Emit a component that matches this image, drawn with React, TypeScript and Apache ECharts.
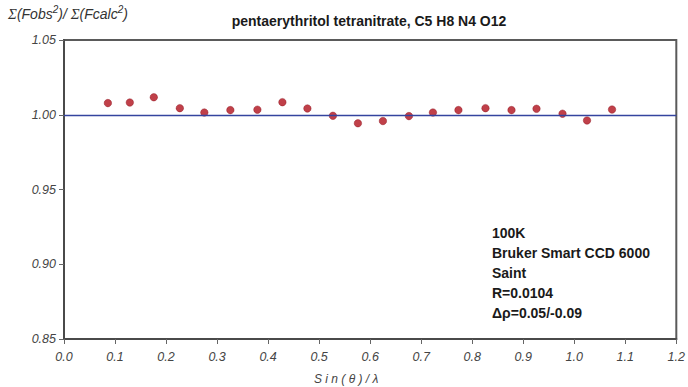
import React, { useEffect, useRef } from "react";
import * as echarts from "echarts";

const sinThetaOverLambda = [0.086, 0.129, 0.176, 0.227, 0.275, 0.326, 0.379, 0.428, 0.477, 0.527, 0.576, 0.625, 0.676, 0.723, 0.773, 0.826, 0.877, 0.926, 0.977, 1.025, 1.074];
const ratio = [1.0078, 1.0082, 1.0117, 1.0044, 1.0015, 1.0031, 1.0034, 1.0084, 1.0042, 0.9993, 0.9943, 0.9958, 0.9991, 1.0015, 1.0031, 1.0044, 1.0031, 1.004, 1.0007, 0.9962, 1.0035];
const referenceLevel = 1.0;
const titleText = "pentaerythritol tetranitrate, C5 H8 N4 O12";
const infoLines = ["100K", "Bruker Smart CCD 6000", "Saint", "R=0.0104", "\u0394\u03c1=0.05/-0.09"];
const xTickLabels = ["0.0", "0.1", "0.2", "0.3", "0.4", "0.5", "0.6", "0.7", "0.8", "0.9", "1.0", "1.1", "1.2"];

export default function App() {
  const ref = useRef<HTMLDivElement>(null);
  useEffect(() => {
    if (!ref.current) return;
    const chart = echarts.init(ref.current, null, { renderer: "svg" });
    const points = sinThetaOverLambda.map((x, i) => [x, ratio[i]]);
    chart.setOption({
      animation: false,
      backgroundColor: "#ffffff",
      textStyle: { fontFamily: "Liberation Sans, Arial, sans-serif" },
      grid: { left: 64, right: 10, top: 40, bottom: 48, show: true, borderColor: "#5a5a5a", borderWidth: 2, backgroundColor: "transparent" },
      title: {
        text: titleText,
        left: 364,
        top: 9,
        textAlign: "center",
        textStyle: { fontSize: 14, fontWeight: "bold", color: "#1a1a1a", fontFamily: "Liberation Sans, Arial, sans-serif" },
      },
      graphic: [
        {
          type: "text",
          left: 8,
          top: 4,
          style: {
            text: "{s|\u03a3}{t|(Fobs}{sup|2}{t|)/ }{s|\u03a3}{t|(Fcalc}{sup|2}{t|)}",
            rich: {
              s: { fontSize: 15, fontStyle: "italic", fill: "#333", fontFamily: "Liberation Serif, serif", verticalAlign: "bottom" },
              t: { fontSize: 14, fontStyle: "italic", fill: "#333", fontFamily: "Liberation Sans, Arial, sans-serif", verticalAlign: "bottom" },
              sup: { fontSize: 10, fontStyle: "italic", fill: "#333", fontFamily: "Liberation Sans, Arial, sans-serif", verticalAlign: "top", padding: [0, 0, 7, 0] },
            },
          },
        },
        {
          type: "text",
          left: 314,
          top: 373,
          style: {
            text: "S i n ( \u03b8 ) / \u03bb",
            fontSize: 12,
            fontStyle: "italic",
            fill: "#444",
            fontFamily: "Liberation Sans, Arial, sans-serif",
          },
        },
        ...infoLines.map((line, i) => ({
          type: "text",
          left: 492,
          top: 226 + i * 20,
          style: {
            text: line,
            fontSize: 14,
            fontWeight: "bold",
            fill: "#1a1a1a",
            fontFamily: "Liberation Sans, Arial, sans-serif",
          },
        })),
      ],
      xAxis: {
        type: "value",
        min: 0,
        max: 1.2,
        interval: 0.1,
        axisLine: { show: true, onZero: false, lineStyle: { color: "#4a4a4a", width: 2 } },
        axisTick: { show: true, length: 5, lineStyle: { color: "#666", width: 1 } },
        splitLine: { show: false },
        axisLabel: {
          margin: 11,
          fontSize: 12.5,
          fontStyle: "italic",
          color: "#444",
          formatter: (v: number) => xTickLabels[Math.round(v * 10)] ?? "",
        },
      },
      yAxis: {
        type: "value",
        min: 0.85,
        max: 1.05,
        interval: 0.05,
        axisLine: { show: true, onZero: false, lineStyle: { color: "#4a4a4a", width: 2 } },
        axisTick: { show: true, length: 5, lineStyle: { color: "#666", width: 1 } },
        splitLine: { show: false },
        axisLabel: {
          margin: 8,
          fontSize: 12.5,
          fontStyle: "italic",
          color: "#444",
          formatter: (v: number) => v.toFixed(2),
        },
      },
      series: [
        {
          type: "scatter",
          data: points,
          symbol: "circle",
          symbolSize: 7.5,
          itemStyle: { color: "#b0101c", borderColor: "#8a0c18", borderWidth: 0.5 },
          markLine: {
            silent: true,
            symbol: ["none", "none"],
            label: { show: false },
            lineStyle: { color: "#34449f", width: 1.3, type: "solid" },
            data: [{ yAxis: referenceLevel }],
          },
          z: 3,
        },
      ],
    });
    return () => chart.dispose();
  }, []);
  return <div ref={ref} style={{ position: "fixed", left: 0, top: 0, width: 688, height: 387 }} />;
}
